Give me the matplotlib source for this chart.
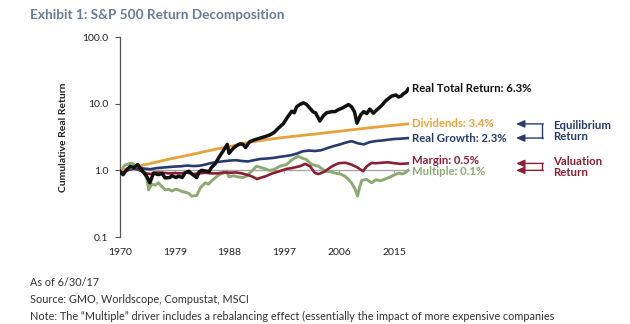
import matplotlib
matplotlib.use("Agg")
import matplotlib.pyplot as plt
from matplotlib.ticker import FuncFormatter, NullLocator

plt.rcParams['font.family'] = ['Lato', 'DejaVu Sans']

# cumulative real return
total_years = [1970.0, 1970.5, 1971.0, 1971.7, 1972.3, 1972.9, 1973.6, 1974.4, 1974.9, 1975.5,
               1976.3, 1976.9, 1977.4, 1978.2, 1978.5, 1979.2, 1979.6, 1980.2, 1980.7, 1981.3,
               1981.8, 1982.6, 1983.0, 1983.4, 1984.2, 1984.6, 1985.0, 1985.6, 1986.4, 1987.0,
               1987.6, 1987.9, 1988.6, 1989.0, 1989.7, 1990.2, 1990.6, 1991.3, 1992.0, 1993.0,
               1993.8, 1994.6, 1995.3, 1996.0, 1996.8, 1997.5, 1998.2, 1998.6, 1999.0, 1999.6,
               2000.1, 2000.6, 2001.2, 2001.7, 2002.1, 2002.8, 2003.4, 2003.9, 2004.8, 2005.3,
               2005.8, 2006.5, 2007.5, 2008.0, 2008.5, 2008.9, 2009.5, 2010.0, 2010.5, 2011.0,
               2011.6, 2011.9, 2012.5, 2013.0, 2013.6, 2014.1, 2014.6, 2015.3, 2015.7, 2016.1,
               2016.5, 2017.0, 2017.3]
total = [0.97, 0.86, 1.0, 1.15, 1.1, 1.22, 1.0, 0.81, 0.65, 0.91,
         0.86, 0.9, 0.77, 0.78, 0.83, 0.78, 0.82, 0.78, 0.92, 0.97,
         0.88, 0.78, 0.95, 1.0, 0.97, 0.95, 1.1, 1.25, 1.65, 2.0,
         2.45, 1.8, 2.15, 2.3, 2.5, 2.45, 2.2, 2.7, 2.85, 3.05,
         3.2, 3.4, 3.7, 4.3, 5.0, 6.3, 7.7, 7.3, 9.0, 9.8,
         10.3, 9.8, 8.5, 7.5, 7.3, 5.5, 6.6, 7.3, 7.6, 7.6,
         8.1, 8.6, 9.7, 9.0, 7.5, 5.1, 6.8, 7.6, 7.1, 8.3,
         7.2, 7.7, 8.6, 9.5, 11.0, 12.0, 13.0, 13.5, 12.6, 12.9,
         14.0, 15.0, 16.6]

div_years = [1970, 1972, 1974, 1976, 1978, 1980, 1982, 1984, 1986, 1988, 1990, 1992, 1994,
             1996, 1998, 2000, 2002, 2004, 2006, 2008, 2010, 2012, 2014, 2016, 2017.3]
dividends = [1.0, 1.1, 1.21, 1.33, 1.47, 1.6, 1.75, 1.92, 2.1, 2.28, 2.5, 2.7, 2.88,
             3.05, 3.2, 3.35, 3.5, 3.68, 3.85, 4.05, 4.25, 4.45, 4.65, 4.85, 4.97]

growth_years = [1970, 1971, 1972, 1973, 1974, 1975, 1976, 1977, 1978, 1979, 1980, 1981, 1982,
                1983, 1984, 1985, 1986, 1987, 1988, 1989, 1990, 1991, 1992, 1993, 1994, 1995,
                1996, 1997, 1998, 1999, 2000, 2001, 2002, 2003, 2004, 2005, 2006, 2007, 2008,
                2009, 2010, 2011, 2012, 2013, 2014, 2015, 2016, 2017.3]
growth = [1.0, 1.02, 1.05, 1.08, 1.06, 1.04, 1.08, 1.1, 1.12, 1.14, 1.15, 1.18, 1.16,
          1.17, 1.22, 1.29, 1.33, 1.37, 1.4, 1.42, 1.38, 1.36, 1.42, 1.48, 1.5, 1.53,
          1.58, 1.63, 1.68, 1.78, 1.93, 1.98, 1.95, 2.0, 2.15, 2.3, 2.43, 2.6, 2.74,
          2.55, 2.45, 2.65, 2.75, 2.8, 2.88, 2.95, 2.98, 3.05]

margin_years = [1970, 1971, 1972.2, 1973, 1974.3, 1975, 1976, 1977, 1978, 1979, 1980, 1981,
                1982, 1983, 1984, 1985, 1986, 1987, 1988, 1989, 1990, 1991, 1991.8, 1992.5,
                1993, 1994, 1995, 1996.2, 1997.3, 1998.2, 1998.9, 1999.5, 2000.4, 2001.2,
                2002, 2002.6, 2003.5, 2004.8, 2005.9, 2007, 2008, 2009, 2009.9, 2010.5,
                2011.3, 2012, 2013, 2014, 2015, 2016, 2017.3]
margin = [0.95, 0.98, 1.08, 1.02, 0.9, 0.88, 0.93, 0.92, 0.9, 0.91, 0.9, 0.93,
          0.88, 0.9, 0.92, 0.9, 0.9, 0.93, 0.92, 0.93, 0.9, 0.85, 0.8, 0.74,
          0.77, 0.82, 0.9, 0.97, 1.05, 1.08, 1.12, 1.15, 1.25, 1.15,
          0.91, 0.88, 0.95, 1.15, 1.28, 1.3, 1.22, 1.1, 0.97, 1.15,
          1.29, 1.28, 1.3, 1.32, 1.28, 1.25, 1.27]

multiple_years = [1970, 1970.5, 1970.8, 1971.9, 1972.7, 1973.6, 1974.0, 1974.4, 1974.7, 1975.2,
                  1975.8, 1976.3, 1976.8, 1977.4, 1978.0, 1978.5, 1979.1, 1979.6, 1980.2, 1980.7,
                  1981.3, 1981.8, 1982.6, 1983.2, 1983.6, 1984.0, 1984.5, 1985.0, 1985.9, 1986.5,
                  1987.0, 1987.5, 1987.9, 1988.6, 1989.3, 1990.2, 1990.8, 1991.3, 1992.4, 1993.5,
                  1994.5, 1995.2, 1996.2, 1997.3, 1998.4, 1999.2, 2000.1, 2000.6, 2001.5, 2002.6,
                  2003.7, 2004.5, 2005.3, 2006.2, 2007.0, 2008.0, 2008.6, 2009.0, 2009.3, 2009.7,
                  2010.5, 2011.3, 2012.0, 2012.8, 2014.0, 2015.0, 2015.7, 2016.3, 2016.7, 2017.3]
multiple = [0.97, 1.1, 1.2, 1.29, 1.15, 1.08, 0.9, 0.75, 0.51, 0.62,
            0.6, 0.65, 0.58, 0.51, 0.52, 0.49, 0.52, 0.51, 0.48, 0.47,
            0.45, 0.41, 0.42, 0.55, 0.6, 0.65, 0.62, 0.69, 0.81, 0.88,
            0.91, 0.97, 0.8, 0.83, 0.8, 0.78, 0.82, 0.91, 1.15, 1.08,
            1.0, 1.02, 1.15, 1.22, 1.48, 1.62, 1.5, 1.45, 1.22, 1.15,
            0.97, 0.95, 0.91, 0.88, 0.81, 0.65, 0.52, 0.41, 0.55, 0.71,
            0.73, 0.65, 0.72, 0.7, 0.77, 0.85, 0.91, 0.88, 0.91, 1.0]

tick_years = [1970, 1979, 1988, 1997, 2006, 2015]
series_labels = ["Real Total Return: 6.3%", "Dividends: 3.4%", "Real Growth: 2.3%",
                 "Margin: 0.5%", "Multiple: 0.1%"]

c_total = "#111111"
c_div = "#E8A23A"
c_growth = "#283B6C"
c_margin = "#8C1D33"
c_mult = "#8DAA72"

fig = plt.figure(figsize=(6.3, 3.24), dpi=100)
ax = fig.add_axes([0.1905, 0.2685, 0.4593, 0.6173])

ax.plot(multiple_years, multiple, color=c_mult, lw=2.1, zorder=3)
ax.plot(margin_years, margin, color=c_margin, lw=1.9, zorder=3)
ax.plot(growth_years, growth, color=c_growth, lw=1.9, zorder=3)
ax.plot(div_years, dividends, color=c_div, lw=2.0, zorder=3)
ax.plot(total_years, total, color=c_total, lw=2.5, zorder=4)

ax.set_yscale('log')
ax.set_ylim(0.1, 100)
ax.set_xlim(1970, 2017.5)
ax.yaxis.set_minor_locator(NullLocator())
ax.yaxis.set_major_formatter(FuncFormatter(lambda v, _: f"{v:.1f}"))
ax.tick_params(axis='y', direction='out', length=3.6, width=0.8, color='#555555',
               pad=5, labelsize=7.5, labelcolor='#222222')

for s in ['top', 'right']:
    ax.spines[s].set_visible(False)
ax.spines['left'].set_color('#555555')
ax.spines['left'].set_linewidth(0.9)
ax.spines['bottom'].set_position(('data', 1))
ax.spines['bottom'].set_color('#a6a6a6')
ax.spines['bottom'].set_linewidth(1.0)
ax.spines['bottom'].set_zorder(2)
ax.set_xticks(tick_years)
ax.tick_params(axis='x', direction='out', length=2.5, width=0.8, color='#a6a6a6',
               labelbottom=False)

sec = ax.secondary_xaxis(0)
sec.set_xticks(tick_years)
sec.spines['bottom'].set_visible(False)
sec.tick_params(axis='x', length=0, pad=8, labelsize=7.5, labelcolor='#222222')

ax.set_ylabel("Cumulative Real Return", fontsize=7.5, fontweight='bold', color='#222222')
ax.yaxis.set_label_coords(-0.18, 0.5)

# end-of-line labels (small vertical nudges keep Margin / Multiple apart)
ends = [(total_years, total, c_total), (div_years, dividends, c_div),
        (growth_years, growth, c_growth), (margin_years, margin, c_margin),
        (multiple_years, multiple, c_mult)]
nudges = [0, 0, 0, 2.2, -1.0]
for (xs, ys, col), lab, dy in zip(ends, series_labels, nudges):
    ax.annotate(lab, xy=(xs[-1], ys[-1]), xytext=(3, dy), textcoords='offset points',
                va='center', ha='left', fontsize=8.2, fontweight='bold', color=col,
                annotation_clip=False)

# bracket arrows on the right
tr = ax.get_yaxis_transform()
x_tip, x_bar, x_txt = 1.369, 1.459, 1.497
brackets = [(dividends[-1], growth[-1], c_growth, "Equilibrium\nReturn"),
            (margin[-1], multiple[-1], c_margin, "Valuation\nReturn")]
for y1, y2, col, txt in brackets:
    ax.plot([x_bar, x_bar], [y1, y2], color=col, lw=1.0, transform=tr, clip_on=False)
    for yy in (y1, y2):
        ax.annotate("", xy=(x_tip, yy), xytext=(x_bar + 0.004, yy), xycoords=tr, textcoords=tr,
                    arrowprops=dict(arrowstyle='-|>,head_length=0.5,head_width=0.22',
                                    color=col, lw=1.0, shrinkA=0, shrinkB=0),
                    annotation_clip=False)
    ymid = (y1 * y2) ** 0.5
    ax.text(x_txt, ymid, txt, transform=tr, va='center', ha='left', fontsize=8.2,
            fontweight='bold', color=col, linespacing=0.95, clip_on=False)

fig.text(0.048, 0.954, "Exhibit 1: S&P 500 Return Decomposition", fontsize=9.8,
         fontweight='bold', color='#6A7B96', va='center', ha='left')

notes = ["As of 6/30/17",
         "Source: GMO, Worldscope, Compustat, MSCI",
         "Note: The \u201cMultiple\u201d driver includes a rebalancing effect (essentially the impact of more expensive companies",
         "entering the index and cheaper companies exiting)."]
for i, line in enumerate(notes):
    fig.text(0.048, 1 - (283 + 16.5 * i) / 324, line, fontsize=7.8, color='#333333',
             va='center', ha='left')

fig.savefig("out.png", dpi=100)
